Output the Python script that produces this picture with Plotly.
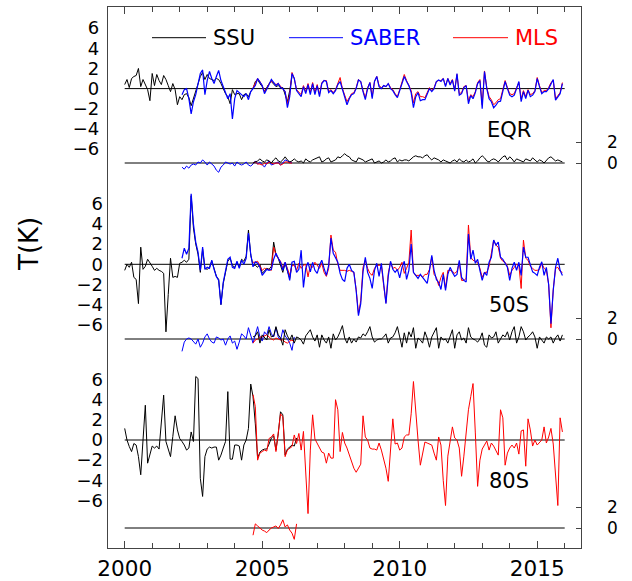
import plotly.graph_objects as go

# ---------------------------------------------------------------
# Monthly temperature anomalies (K); month index 0 = Jan 2000
# ---------------------------------------------------------------
SSU_START = 0
SABER_START = 25
MLS_START = 56

# --- EQR ---
ssu_eqr = [0.4, 0.9, 0.1, 1.0, 1.2, 1.3, 2.0, 0.2, 0.9, 0.4,
           -0.1, -1.2, 1.5, 0.3, 1.4, 0.8, 0.4, 1.3, 0.9, 0.3,
           -0.3, 0.5, -0.1, -1.6, -0.8, -1.1, -0.6, -0.5, -0.9, -1.7,
           -1.0, -0.4, 0.4, 1.2, 1.6, 0.9, 1.4, 1.0, 0.9, 0.8,
           1.0, 0.9, 0.5, 0.0, -0.5, -0.8, -1.5, -0.1, -0.6, -0.5,
           -0.5, -1.1, -0.6, -0.5, -0.8, -0.3, 0.0, 0.7, 0.9, 0.5,
           0.2, -0.3, 0.1, 0.5, 0.7, 0.4, 0.2, 0.3, 0.1, 0.1,
           -0.5, -1.3, -0.2, 1.2]
saber_eqr = [-0.6, -0.1, 0.0, -1.0, -2.5, -1.3, -0.6, 0.3, 1.5, 1.85,
             -0.6, 0.8, 1.7, 1.0, 0.5, 1.2, 1.8, 0.8, 0.2, -0.2,
             -1.0, -0.5, -3.0, -1.0, -0.2, -0.4, -0.6, -0.8, -0.5, -1.1,
             -0.3, 0.0, 0.3, 1.0, 0.6, 0.3, -0.5, -0.1, 0.4, 0.9,
             0.6, 0.3, 0.5, 0.1, 0.0, -0.3, -1.9, -0.8, 1.5, 1.0,
             -0.2, -0.5, -0.8, 0.2, -0.5, 0.4, -0.6, 0.5, -0.6, 0.3,
             -0.8, 0.5, 0.8, 0.7, -0.4, -0.2, -0.5, -0.2, 0.4, 0.7,
             -0.1, -0.9, -1.6, -1.0, -0.6, -0.5, 0.0, 0.85, 0.7, -0.3,
             -1.1, 0.0, 0.6, -1.0, 0.7, 1.2, 0.2, 0.0, 0.3, 0.2,
             0.5, 0.0, -0.2, -0.6, -0.9, -0.2, 0.5, 1.2, 0.7, 0.3,
             -0.4, -1.9, -0.8, -0.4, -1.2, -1.1, -1.1, -0.6, 0.0, -0.3,
             0.0, 0.7, 0.85, 0.7, 1.0, 0.2, 1.0, 0.35, 0.85, -0.25,
             1.5, -0.65, -0.5, 0.1, 0.3, -1.5, -0.7, -1.0, -0.4, 0.5,
             0.8, -2.0, 1.7, 0.0, -1.0, -1.3, -1.9, -1.65, -1.3, -1.25,
             -0.3, 0.7, 0.0, -0.65, -0.8, -0.65, 0.0, 0.7, -1.3, -0.3,
             -1.0, -0.15, -0.8, -0.65, -0.3, 1.0, 0.2, -0.5, -0.3, -0.3,
             0.0, 0.5, 0.9, -1.15, -0.8, -0.5, 0.5]
mls_eqr = [0.1, 0.5, 1.0, 0.7, 0.3, -0.3, 0.0, 0.5, 0.7, 0.6,
           0.4, 0.5, 0.2, 0.0, -0.3, -1.5, -0.6, 1.6, 1.0, -0.1,
           -0.4, -0.6, 0.3, -0.3, 0.5, -0.4, 0.6, -0.4, 0.4, -0.6,
           0.6, 0.8, 0.8, -0.3, -0.1, -0.4, -0.1, 0.5, 1.1, 0.0,
           -0.7, -1.3, -0.9, -0.5, -0.4, 0.1, 0.9, 0.7, -0.2, -0.9,
           0.1, 0.6, -0.8, 0.7, 1.2, 0.3, 0.1, 0.3, 0.2, 0.5,
           0.1, -0.1, -0.5, -0.8, -0.1, 0.6, 1.4, 0.8, 0.3, -0.2,
           -1.4, -0.5, -0.3, -0.8, -0.8, -0.9, -0.4, 0.1, -0.2, 0.1,
           0.7, 0.8, 0.8, 1.0, 0.3, 1.0, 0.5, 0.9, -0.1, 1.4,
           -0.5, -0.4, 0.2, 0.3, -1.2, -0.6, -0.8, -0.3, 0.6, 0.9,
           -1.6, 1.75, 0.1, -0.8, -1.1, -1.6, -1.4, -1.1, -1.0, -0.2,
           0.8, 0.1, -0.5, -0.6, -0.5, 0.1, 0.6, -1.0, -0.2, -0.8,
           -0.1, -0.6, -0.5, -0.2, 1.1, 0.3, -0.4, -0.2, -0.2, 0.1,
           0.6, 0.8, -1.0, -0.7, -0.4, 0.6]
# differences (K)
ssu_saber_eqr = [-0.4, -0.6, -0.3, -0.5, -0.2, -0.1, -0.2, 0.1, 0.0, 0.3,
                 0.1, -0.2, 0.1, -0.1, -0.3, -0.7, -0.9, -0.4, -0.2, 0.1,
                 0.0, -0.1, 0.0, -0.3, 0.1, -0.1, -0.2, -0.1, 0.1, -0.2,
                 -0.3, -0.1, 0.2, -0.1, 0.1, -0.2, -0.4, 0.0, 0.2, -0.2,
                 -0.1, 0.0, 0.1, -0.2, 0.0, 0.3, 0.2, 0.1, 0.0]
ssu_mls_eqr = [0.0, 0.1, -0.1, -0.1, -0.2, 0.0, -0.1, 0.1, 0.0, -0.1,
               0.0, 0.0, -0.2, -0.1, 0.1, 0.1, 0.0, 0.0]
saber_mls_eqr = [0.0, 0.1, 0.2, 0.4, 0.2, 0.1, 0.3, 0.2, 0.0, 0.3,
                 0.5, 0.2, 0.1, 0.3, 0.6, 0.3, 0.1, 0.2, 0.4, 0.2,
                 0.1, 0.2, 0.0, 0.4, 0.2, 0.1, 0.3, 0.4, 0.5, 0.6,
                 0.1, 0.2, 0.4, 0.5, 0.1, 0.2, 0.3, 0.6, 0.5, 0.7,
                 0.9, 0.7, 0.6, 0.3, 0.2, 0.1, 0.5, 0.4, 0.3, 0.1,
                 0.2, 0.3, 0.4, 0.0, 0.1, 0.2, 0.0, 0.1, 0.3, 0.1,
                 0.2, 0.4, 0.5, 0.1, 0.3, 0.2, 0.3, 0.3, 0.2, 0.4,
                 0.6, 0.7, 0.6, 0.6, 0.5, 0.7, 0.8, 0.5, 0.3, 0.5,
                 0.4, 0.3, 0.1, 0.3, 0.2, 0.1, 0.0, 0.2, 0.3, 0.1,
                 0.4, 0.2, 0.1, 0.3, 0.1, 0.2, 0.4, 0.0, 0.2, 0.5,
                 0.7, 0.5, 0.2, 0.1, 0.3, 0.4, 0.3, 0.1, 0.4, 0.6,
                 0.7, 0.3, 0.6, 0.4, 0.1, 0.4, 0.3, 0.2, 0.1, 0.4,
                 0.3, 0.2, 0.5, 0.3, 0.1, 0.3, 0.2, 0.0, 0.3, 0.5,
                 0.6, 0.4, 0.2, 0.3, 0.2, 0.1]

# --- 50S ---
ssu_50s = [-0.6, 0.0, -0.3, 0.2, -1.3, -1.5, -3.9, 1.7, -0.5, -0.2,
           0.5, 0.2, -0.2, -0.6, -0.4, -0.6, -0.7, -0.9, -6.7, -3.0,
           0.6, -1.3, -1.2, -1.3, 0.1, 0.2, 0.4, 0.2, 0.5, 6.8,
           3.6, 2.0, 1.0, -0.8, 1.5, -0.4, -0.5, -0.3, 0.3, -0.4,
           -1.2, -1.5, -4.0, -1.9, -0.6, 0.3, 0.6, -0.1, -0.3, 0.2,
           -0.3, 0.5, 0.3, 0.8, 3.4, 0.9, -0.1, -0.1, -0.3, 0.0,
           -0.9, -0.6, -0.4, -0.5, -0.2, 2.2, 1.0, 0.6, 0.0, -0.8,
           0.1, -0.7, -1.4, 0.0]
saber_50s = [0.6, 1.6, 1.0, 1.6, 7.0, 4.0, 2.2, 1.2, -0.6, 1.7,
             -0.5, -0.3, -0.4, 0.4, -0.5, -1.2, -1.6, -4.0, -1.8, -0.5,
             0.5, 0.7, -0.3, -0.4, 0.3, -0.4, 0.4, 0.0, 0.6, 3.1,
             1.0, -0.25, 0.25, 0.1, -0.3, -1.1, -0.75, -0.5, -0.6, -0.5,
             0.5, 1.1, 0.6, 0.2, -0.6, 0.2, -0.6, -1.6, 0.2, 0.3,
             -0.8, -0.5, 1.4, -2.3, -0.4, 0.2, -0.75, 0.2, -0.6, -0.9,
             -0.1, 0.4, -0.4, -1.1, -0.1, 2.6, 1.1, 0.7, 0.2, -0.9,
             -1.5, -1.7, -0.4, 0.0, -0.6, -0.8, -2.6, -5.1, -3.9, -0.75,
             0.7, -0.8, -1.4, -2.4, -0.6, 0.1, -1.2, 0.1, -1.9, -3.9,
             -1.2, 0.3, -0.5, -0.8, -0.5, -1.35, -0.3, 0.3, -1.5, -0.6,
             2.0, -0.8, -1.1, -1.4, -1.0, -1.3, -1.6, -1.9, -0.6, 0.9,
             -0.6, -1.5, -1.8, -2.5, -1.0, -2.6, -1.0, -0.3, -0.8, -1.2,
             -1.0, 0.4, -1.3, -1.6, -1.75, 3.0, 0.5, 1.4, 0.1, 0.5,
             -0.6, -1.6, -0.8, -1.1, 0.2, 0.7, 2.4, 1.9, 2.2, 0.7,
             0.5, 0.1, -0.3, -1.6, -0.4, 0.2, -0.6, 0.2, -1.1, 1.7,
             0.7, 0.7, -0.1, -0.75, -0.9, -1.1, -0.3, 0.25, -1.1, -0.3,
             -2.0, -5.9, -2.6, -0.3, 0.6, -0.6, -1.1]
mls_50s = [0.2, 0.2, 0.3, -0.2, -0.6, -0.4, -0.5, -0.5, -0.6, 1.7,
           0.9, 0.6, 0.3, -0.4, 0.2, -0.4, -1.1, -0.1, -0.1, -0.6,
           0.1, -0.4, -0.1, 0.0, -1.25, -0.1, -0.3, 0.2, -0.1, -0.4,
           0.1, -0.8, -1.2, -0.4, 2.9, 1.4, 1.2, 0.0, -0.6, -0.6,
           -0.6, -0.7, -0.6, -0.7, -0.8, -2.5, -4.9, -3.6, -0.3, 0.4,
           -0.4, -0.9, -1.1, -0.4, -0.1, -0.1, -0.1, -2.1, -3.8, -0.9,
           0.2, -0.4, -0.3, -0.6, -0.3, 0.2, -0.9, -0.4, 0.2, 3.4,
           -0.8, -1.1, -1.1, -1.1, -1.3, -1.0, -1.0, -0.5, 0.7, -1.0,
           -1.3, -2.1, -1.3, -0.8, -2.4, -0.6, -0.6, -0.7, -0.9, -0.7,
           0.2, -1.6, -1.6, -1.4, 3.9, 0.7, 0.4, 0.3, 0.2, -0.4,
           -1.3, -0.8, -0.8, -0.2, 1.0, 2.4, 1.9, 1.7, 0.6, 0.3,
           0.2, -0.2, -1.1, -0.6, -0.3, 0.0, -0.1, -2.4, 2.4, 0.6,
           0.4, -0.2, -0.4, -0.6, -0.6, -0.5, 0.1, -0.4, -0.6, -2.0,
           -6.3, -2.5, -0.4, -0.3, -0.7, -0.8]
ssu_saber_50s = [-1.2, -0.3, 0.0, 0.1, 0.0, -0.3, -0.5, 0.0, -0.8, -0.4,
                 0.2, 0.5, 0.0, -0.3, -0.4, 0.2, 0.1, -0.1, 0.0, -0.6,
                 0.0, 0.3, -0.4, -0.2, -1.0, -0.3, 0.5, 0.3, 0.0, 1.1,
                 0.2, -0.4, 0.4, 1.2, 0.2, -0.2, 0.7, 0.4, 1.2, 0.5,
                 0.2, 1.1, 0.2, -0.1, 0.9, 0.3, 0.0, -0.4, -1.1, 0.2]
ssu_mls_50s = [-0.4, -0.1, 0.0, 0.2, 0.2, 0.3, 0.4, 0.2, 0.0, -0.1,
               0.1, 0.0, -0.1, -0.1, -0.3, -0.4, -0.2, -0.1, -0.3]
saber_mls_50s = [0.2, 0.3, 0.7, -0.4, 0.4, 0.1, -0.1, 0.9, 0.2, 0.3,
                 1.2, 0.4, 0.1, -0.6, 0.9, 0.3, -0.1, 0.4, -0.4, 0.2,
                 0.1, -0.1, -0.5, 0.3, 0.6, 0.9, 0.2, -0.2, 0.4, -0.8,
                 0.4, -0.1, -0.4, 0.2, -0.9, 0.5, -0.1, 0.2, 0.7, 1.3,
                 0.1, -0.4, 0.2, -0.4, 0.0, -0.3, 0.2, 0.1, 0.5, 0.3,
                 0.7, 1.2, 0.2, -0.3, -0.1, 0.0, 0.0, 0.2, 0.5, -0.4,
                 0.1, 0.2, 0.6, 1.2, 0.2, -0.8, 0.6, -0.4, 0.7, 0.2,
                 1.1, -0.9, 0.1, -0.1, -0.4, 0.7, 0.1, -0.8, 0.2, 0.7,
                 1.1, -0.9, 0.2, -0.1, 0.0, -0.4, 0.2, 0.9, -0.9, 0.4,
                 0.7, -0.1, 0.1, -0.4, 1.1, 0.2, 0.0, -0.1, -0.3, 0.0,
                 0.6, -0.6, -0.8, 0.4, 0.1, 0.2, 0.7, -0.4, 0.0, 0.4,
                 0.2, 0.7, -0.1, 0.7, 1.2, -0.4, 0.2, 1.2, 0.7, -0.1,
                 0.2, 0.4, 0.7, 0.2, -0.9, 0.2, -0.1, -0.4, 0.2, 0.0,
                 0.2, -0.4, 0.1, 0.4, -0.2, 0.4]

# --- 80S ---
ssu_80s = [1.15, 0.0, -0.65, -1.15, -0.35, -0.5, -1.65, -3.45, 0.0, 3.45,
           -2.3, -1.3, -0.6, -0.8, -0.6, -0.9, 2.0, 4.45, -0.15, -1.0,
           -1.65, 0.35, 2.4, 1.0, 0.15, -0.15, -0.5, -1.0, -0.8, 0.8,
           -0.15, 6.3, 6.1, -3.8, -5.6, -1.65, -0.9, -0.7, -0.8, -0.7,
           -0.7, -2.0, -1.5, -0.8, -0.15, 4.8, -1.9, -1.9, -0.5, -0.5,
           -0.6, -2.0, -0.5, 0.0, 1.15, 5.55, 4.3, 1.6, -1.8, -1.2,
           -1.0, -0.9, -0.9, -0.4, 0.2, 0.4, -1.0, 0.6, 2.8, 2.5,
           -1.5, -0.9, -0.7, -0.5, -0.6, 0.2]
mls_80s = [4.5, 3.3, -2.0, -1.3, -1.15, -1.0, -1.1, 0.15, 0.3, 0.6,
           -1.15, 0.5, 2.6, 2.3, -1.65, -1.0, -0.85, -0.65, 0.5, -0.35,
           0.65, -1.0, 0.85, -3.0, -7.3, -1.0, 2.5, 0.1, -0.3, -0.7,
           -1.2, -1.3, -2.3, -1.3, -1.8, -1.8, 4.0, 3.0, -1.15, 0.75,
           -0.3, -0.8, -1.5, -2.0, -2.8, -3.2, -2.8, -2.4, 2.4, 0.3,
           0.0, -0.8, -0.9, -0.9, -1.0, -0.3, -1.0, -1.8, -2.8, -4.1,
           -1.0, 2.1, -0.4, -0.3, -1.0, -0.8, 0.3, 0.5, 0.5, 2.6,
           5.8, 2.6, 0.0, -2.5, -1.3, -0.2, -0.3, -0.4, -0.5, -1.3,
           -2.0, 0.3, -0.5, -4.0, -6.5, -1.6, 0.0, 1.3, 0.2, 0.0,
           -0.8, -3.6, -1.6, 0.6, 3.0, 4.3, 5.6, 0.7, -4.6, -2.0,
           -0.9, -0.5, -0.1, -1.0, -0.3, -0.6, -1.0, -1.5, 3.0, 2.2,
           -2.5, -1.3, -0.8, -0.5, -0.8, -0.3, -1.4, 0.9, 1.0, -2.6,
           2.1, 1.0, -0.6, 0.0, -0.5, -0.3, 0.0, 1.3, -0.3, 0.3,
           1.15, -0.4, -3.6, -6.5, 2.2, 0.8]
ssu_mls_80s = [-0.7, 0.4, 0.2, 0.0, -0.2, -0.3, -0.45, -0.2, 0.0, 0.1,
               0.2, -0.05, 0.3, 0.8, 0.1, 0.3, -0.2, -0.5, -1.1, 0.4]

# axis labels
left_ticks = [-6, -4, -2, 0, 2, 4, 6]
right_ticks = [0, 2]
year_ticks = [2000, 2005, 2010, 2015]
region_names = ["EQR", "50S", "80S"]
legend_names = ["SSU", "SABER", "MLS"]

BLACK, BLUE, RED = "#000000", "#0000ff", "#ff0000"
FONT = "DejaVu Sans"

# ---------------------------------------------------------------
# page geometry (pixels)
W, H = 632, 581
ML, MR, MT, MB = 108, 51, 7, 33
PX_TOP, PX_BOT = MT, H - MB
PLOT_W = W - ML - MR
PLOT_H = PX_BOT - PX_TOP
PX_PER_YEAR = 27.5
X2000_PX = 124.7

xrange_ = [2000 - (X2000_PX - ML) / PX_PER_YEAR,
           2000 + (W - MR - X2000_PX) / PX_PER_YEAR]


def yrange(zero_px, px_per_k):
    return [-(PX_BOT - zero_px) / px_per_k, (zero_px - PX_TOP) / px_per_k]


def px_x(px):
    return (px - ML) / PLOT_W


def px_y(py):
    return (PX_BOT - py) / PLOT_H


def month_axis(start, n):
    return [2000 + (start + i) / 12.0 for i in range(n)]


# zero-line pixel rows of each strip, and strip scales
UPPER_ZERO = [88.6, 264.3, 440.0]
LOWER_ZERO = [163.0, 339.0, 528.0]
UPPER_SCALE = 10.08
LOWER_SCALE = 10.3

fig = go.Figure()


def add_line(y, start, color, yaxis, width=1.0):
    fig.add_trace(go.Scatter(x=month_axis(start, len(y)), y=y, mode="lines",
                             line=dict(color=color, width=width),
                             yaxis=yaxis, hoverinfo="skip", showlegend=False))


# EQR
add_line(ssu_saber_eqr, SABER_START, BLUE, "y2")
add_line(ssu_mls_eqr, MLS_START, RED, "y2")
add_line(saber_mls_eqr, MLS_START, BLACK, "y2")
add_line(ssu_eqr, SSU_START, BLACK, "y")
add_line(mls_eqr, MLS_START, RED, "y")
add_line(saber_eqr, SABER_START, BLUE, "y", 1.2)
# 50S
add_line(ssu_saber_50s, SABER_START, BLUE, "y4")
add_line(ssu_mls_50s, MLS_START, RED, "y4")
add_line(saber_mls_50s, MLS_START, BLACK, "y4")
add_line(ssu_50s, SSU_START, BLACK, "y3")
add_line(mls_50s, MLS_START, RED, "y3")
add_line(saber_50s, SABER_START, BLUE, "y3", 1.2)
# 80S
add_line(ssu_mls_80s, MLS_START, RED, "y6")
add_line(ssu_80s, SSU_START, BLACK, "y5")
add_line(mls_80s, MLS_START, RED, "y5")

shapes = []
# zero lines of every strip
for ref in ["y", "y2", "y3", "y4", "y5", "y6"]:
    shapes.append(dict(type="line", xref="x", yref=ref, x0=2000, x1=2016,
                       y0=0, y1=0, line=dict(color=BLACK, width=1), layer="below"))

annotations = []
# legend
legend_rows = [(152, 206, 210.7, BLACK), (289, 343, 348, BLUE), (453, 508, 513, RED)]
for name, (x0, x1, xt, col) in zip(legend_names, legend_rows):
    shapes.append(dict(type="line", xref="paper", yref="paper",
                       x0=px_x(x0), x1=px_x(x1), y0=px_y(37.7), y1=px_y(37.7),
                       line=dict(color=col, width=1)))
    annotations.append(dict(text=name, xref="paper", yref="paper",
                            x=px_x(xt), y=px_y(38.5), xanchor="left", yanchor="middle",
                            showarrow=False, font=dict(family=FONT, size=21, color=col)))

for name, cy in zip(region_names, [129.5, 304.7, 481.0]):
    annotations.append(dict(text=name, xref="paper", yref="paper",
                            x=px_x(509), y=px_y(cy), xanchor="center", yanchor="middle",
                            showarrow=False, font=dict(family=FONT, size=21, color=BLACK)))

annotations.append(dict(text="T(K)", xref="paper", yref="paper",
                        x=px_x(29), y=px_y(244), xanchor="center", yanchor="middle",
                        textangle=-90, showarrow=False,
                        font=dict(family=FONT, size=26, color=BLACK)))

AXIS_COL = "#444444"
left_axis = dict(tickvals=left_ticks, ticks="", showgrid=False, zeroline=False,
                 tickfont=dict(family=FONT, size=18, color=BLACK),
                 ticklabelstandoff=4, fixedrange=True, automargin=False)
right_axis = dict(tickvals=right_ticks, ticks="inside", ticklen=5, tickcolor=AXIS_COL,
                  showgrid=False, zeroline=False, side="right", overlaying="y",
                  tickfont=dict(family=FONT, size=17, color=BLACK),
                  ticklabelstandoff=25, fixedrange=True, automargin=False)

fig.update_layout(
    template="none",
    width=W, height=H,
    margin=dict(l=ML, r=MR, t=MT, b=MB, pad=0, autoexpand=False),
    paper_bgcolor="white", plot_bgcolor="white",
    showlegend=False,
    xaxis=dict(range=xrange_, tickvals=year_ticks, ticks="inside", ticklen=7,
               tickcolor=AXIS_COL, minor=dict(dtick=1, tick0=2000, ticks="inside",
                                              ticklen=5, tickcolor=AXIS_COL),
               showline=True, linecolor=AXIS_COL, linewidth=1.2, mirror="ticks",
               showgrid=False, zeroline=False, automargin=False,
               ticklabelstandoff=1,
               tickfont=dict(family=FONT, size=21.5, color=BLACK), fixedrange=True),
    yaxis=dict(range=yrange(UPPER_ZERO[0], UPPER_SCALE), showline=True,
               linecolor=AXIS_COL, linewidth=1.2, mirror=True, **left_axis),
    yaxis3=dict(range=yrange(UPPER_ZERO[1], UPPER_SCALE), overlaying="y",
                side="left", showline=False, **left_axis),
    yaxis5=dict(range=yrange(UPPER_ZERO[2], UPPER_SCALE), overlaying="y",
                side="left", showline=False, **left_axis),
    yaxis2=dict(range=yrange(LOWER_ZERO[0], LOWER_SCALE), showline=False, **right_axis),
    yaxis4=dict(range=yrange(LOWER_ZERO[1], LOWER_SCALE), showline=False, **right_axis),
    yaxis6=dict(range=yrange(LOWER_ZERO[2], LOWER_SCALE), showline=False, **right_axis),
    shapes=shapes,
    annotations=annotations,
)

fig.write_html("out.html")
